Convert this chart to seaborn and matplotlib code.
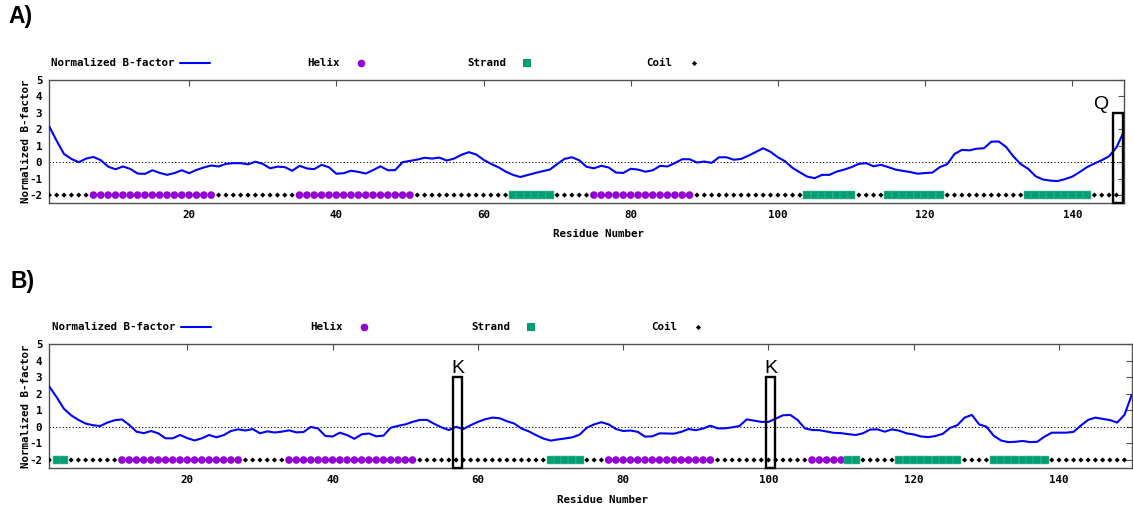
import numpy as np
import pandas as pd
import matplotlib
matplotlib.use("Agg")
import matplotlib.pyplot as plt
from matplotlib.patches import Rectangle
from matplotlib.lines import Line2D
import seaborn as sns

# ---------------------------------------------------------------- data
# Normalized B-factor per residue (panel A: residues 1-147, panel B: 1-150)
bfactor_a = [
    2.17, 1.30, 0.50, 0.20, 0.00, 0.22, 0.32, 0.12, -0.27, -0.43,
    -0.26, -0.41, -0.69, -0.71, -0.49, -0.65, -0.77, -0.66, -0.49, -0.67,
    -0.47, -0.32, -0.20, -0.26, -0.10, -0.06, -0.06, -0.13, 0.03, -0.10,
    -0.37, -0.27, -0.30, -0.52, -0.22, -0.38, -0.42, -0.16, -0.31, -0.70,
    -0.67, -0.52, -0.59, -0.69, -0.48, -0.25, -0.49, -0.48, 0.00, 0.08,
    0.16, 0.27, 0.22, 0.28, 0.10, 0.22, 0.45, 0.61, 0.47, 0.15,
    -0.10, -0.30, -0.57, -0.77, -0.90, -0.78, -0.66, -0.55, -0.45, -0.12,
    0.20, 0.30, 0.12, -0.28, -0.37, -0.22, -0.32, -0.63, -0.65, -0.40,
    -0.45, -0.58, -0.49, -0.22, -0.26, -0.05, 0.18, 0.18, -0.02, 0.04,
    -0.04, 0.30, 0.30, 0.15, 0.20, 0.40, 0.62, 0.85, 0.63, 0.30,
    0.05, -0.35, -0.62, -0.88, -0.97, -0.77, -0.77, -0.57, -0.45, -0.30,
    -0.10, -0.06, -0.25, -0.16, -0.30, -0.45, -0.53, -0.60, -0.70, -0.66,
    -0.63, -0.30, -0.12, 0.50, 0.75, 0.72, 0.82, 0.85, 1.25, 1.26,
    0.93, 0.35, -0.12, -0.40, -0.85, -1.05, -1.12, -1.15, -1.03, -0.88,
    -0.60, -0.30, -0.08, 0.12, 0.36, 0.90, 1.85,
]

bfactor_b = [
    2.43, 1.80, 1.10, 0.70, 0.42, 0.20, 0.10, 0.05, 0.26, 0.40,
    0.45, 0.12, -0.29, -0.38, -0.25, -0.39, -0.69, -0.69, -0.49, -0.68,
    -0.82, -0.69, -0.49, -0.63, -0.50, -0.25, -0.15, -0.22, -0.13, -0.39,
    -0.27, -0.34, -0.29, -0.21, -0.33, -0.31, 0.00, -0.10, -0.55, -0.58,
    -0.35, -0.50, -0.72, -0.45, -0.40, -0.57, -0.53, -0.05, 0.06, 0.15,
    0.30, 0.42, 0.42, 0.18, -0.03, -0.19, 0.00, -0.13, 0.10, 0.30,
    0.46, 0.56, 0.52, 0.34, 0.20, -0.10, -0.27, -0.50, -0.70, -0.83,
    -0.76, -0.70, -0.63, -0.47, -0.05, 0.15, 0.28, 0.15, -0.13, -0.25,
    -0.22, -0.30, -0.59, -0.57, -0.39, -0.40, -0.41, -0.30, -0.13, -0.20,
    -0.10, 0.07, -0.09, -0.09, -0.03, 0.05, 0.45, 0.38, 0.30, 0.30,
    0.50, 0.70, 0.72, 0.42, -0.09, -0.19, -0.20, -0.28, -0.36, -0.38,
    -0.44, -0.49, -0.39, -0.16, -0.15, -0.29, -0.15, -0.23, -0.39, -0.46,
    -0.58, -0.62, -0.55, -0.42, -0.06, 0.10, 0.56, 0.72, 0.15, 0.01,
    -0.53, -0.82, -0.92, -0.90, -0.85, -0.92, -0.90, -0.59, -0.35, -0.35,
    -0.35, -0.30, 0.08, 0.42, 0.56, 0.48, 0.41, 0.26, 0.72, 1.92,
]

# Secondary structure assignment: (first residue, last residue, class)
ss_segments_a = [
    (1, 6, "Coil"), (7, 23, "Helix"), (24, 34, "Coil"), (35, 50, "Helix"),
    (51, 63, "Coil"), (64, 69, "Strand"), (70, 74, "Coil"), (75, 88, "Helix"),
    (89, 103, "Coil"), (104, 110, "Strand"), (111, 114, "Coil"),
    (115, 122, "Strand"), (123, 133, "Coil"), (134, 142, "Strand"),
    (143, 147, "Coil"),
]
ss_segments_b = [
    (1, 1, "Coil"), (2, 3, "Strand"), (4, 10, "Coil"), (11, 27, "Helix"),
    (28, 33, "Coil"), (34, 51, "Helix"), (52, 69, "Coil"), (70, 74, "Strand"),
    (75, 77, "Coil"), (78, 92, "Helix"), (93, 105, "Coil"), (106, 110, "Helix"),
    (111, 112, "Strand"), (113, 117, "Coil"), (118, 126, "Strand"),
    (127, 130, "Coil"), (131, 138, "Strand"), (139, 149, "Coil"),
]
ss_level = -2  # row on which the secondary structure track is drawn

# Highlighted residues and their one-letter labels
highlights_a = [(146, "Q")]
highlights_b = [(57, "K"), (100, "K")]

panel_titles = ["A)", "B)"]
x_ticks = [20, 40, 60, 80, 100, 120, 140]
y_ticks = [-2, -1, 0, 1, 2, 3, 4, 5]
legend_labels = ["Normalized B-factor", "Helix", "Strand", "Coil"]

# ---------------------------------------------------------------- style
LINE_C = "#0000ff"
SS_STYLE = {
    "Helix": dict(color="#9400d3", marker="o", s=30, ec="none", lw=0),
    "Strand": dict(color="#009e73", marker="s", s=30, ec="#5fbfa2", lw=0.35),
    "Coil": dict(color="black", marker="D", s=7, ec="none", lw=0),
}
FRAME_C = "#505050"

sns.set_theme(style="white")
plt.rcParams["font.family"] = ["DejaVu Sans Mono"]
plt.rcParams["font.weight"] = "bold"
plt.rcParams["axes.unicode_minus"] = False

W, H = 1133, 508
fig = plt.figure(figsize=(W / 100, H / 100), dpi=100)


def axes_px(left, right, top, bottom):
    return fig.add_axes([left / W, 1 - bottom / H, (right - left) / W, (bottom - top) / H])


def expand(segments):
    rows = []
    for first, last, cls in segments:
        for r in range(first, last + 1):
            rows.append((r, cls))
    df = pd.DataFrame(rows, columns=["residue", "ss"])
    df["level"] = ss_level
    return df


def draw_panel(ax, bfactor, segments, highlights, width_px, xlab_x, xlab_y):
    n = len(bfactor)
    curve = pd.DataFrame({"residue": np.arange(1, n + 1), "bfactor": bfactor})
    ss = expand(segments)

    ax.axhline(0, color="black", lw=0.7, ls=(0, (1.2, 2.2)), zorder=1)
    sns.lineplot(data=curve, x="residue", y="bfactor", ax=ax, color=LINE_C,
                 lw=1.5, zorder=3, estimator=None)
    for cls, st in SS_STYLE.items():
        sub = ss[ss["ss"] == cls]
        sns.scatterplot(data=sub, x="residue", y="level", ax=ax, color=st["color"],
                        marker=st["marker"], s=st["s"], edgecolor=st["ec"],
                        linewidth=st["lw"], zorder=4, legend=False)

    ax.set_xlim(1, n)
    ax.set_ylim(-2.5, 5)
    ax.set_xticks(x_ticks)
    ax.set_yticks(y_ticks)
    ax.tick_params(direction="in", length=4, width=0.8, color=FRAME_C,
                   top=True, right=True, labelsize=7.8, labelcolor="black")
    ax.tick_params(axis="y", pad=5)
    ax.tick_params(axis="x", pad=5)
    for sp in ax.spines.values():
        sp.set_color(FRAME_C)
        sp.set_linewidth(1.0)

    ax.set_xlabel("Residue Number", fontsize=7.8, fontweight="bold", color="black")
    ax.set_ylabel("Normalized B-factor", fontsize=7.8, fontweight="bold", color="black")
    ax.xaxis.set_label_coords(xlab_x, xlab_y)
    ax.yaxis.set_label_coords(-18.5 / width_px, 0.5)

    # highlighted residues: outline box and letter
    for res, letter in highlights:
        ax.add_patch(Rectangle((res - 0.4, -2.5), 1.27, 5.5, fill=False,
                               ec="black", lw=1.7, zorder=6, clip_on=False))
        dx = -2.1 if res == n - 1 else 0.3
        ax.text(res + dx, 3.25, letter, ha="center", va="baseline",
                fontsize=14, fontweight="normal", family="Liberation Sans",
                color="black", zorder=7)

    # key row above the frame
    x0, dx = 0.1356, 0.1547
    ky = 1.135
    for i, label in enumerate(legend_labels):
        cx = x0 + dx * i
        ax.text(cx - 21 / width_px, ky, label, transform=ax.transAxes,
                ha="right", va="center", fontsize=7.8, fontweight="bold",
                color="black")
        if i == 0:
            ax.add_line(Line2D([cx - 15 / width_px, cx + 15 / width_px], [ky, ky],
                               transform=ax.transAxes, color=LINE_C, lw=1.5,
                               clip_on=False))
        else:
            st = SS_STYLE[label]
            ax.scatter([cx], [ky], transform=ax.transAxes, color=st["color"],
                       marker=st["marker"], s=st["s"], linewidth=0, clip_on=False)


ax_a = axes_px(49.3, 1123.8, 80, 203.3)
ax_b = axes_px(49.3, 1131.7, 344, 468.3)

draw_panel(ax_a, bfactor_a, ss_segments_a, highlights_a, 1074.5, 0.5107, -0.205)
draw_panel(ax_b, bfactor_b, ss_segments_b, highlights_b, 1082.4, 0.511, -0.212)

fig.text(8 / W, 1 - 5 / H, panel_titles[0], ha="left", va="top", fontsize=16.5,
         fontweight="bold", family="Liberation Sans", color="black")
fig.text(10 / W, 1 - 270 / H, panel_titles[1], ha="left", va="top", fontsize=16.5,
         fontweight="bold", family="Liberation Sans", color="black")

fig.savefig("out.png", dpi=100)
